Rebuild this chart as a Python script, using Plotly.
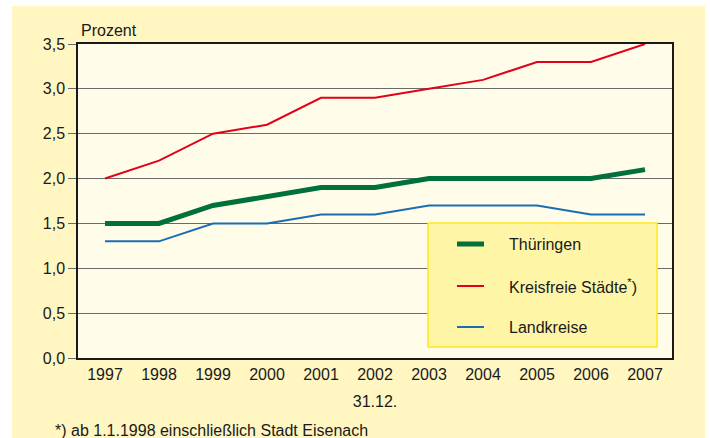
import plotly.graph_objects as go

years = ["1997", "1998", "1999", "2000", "2001", "2002", "2003", "2004", "2005", "2006", "2007"]
thueringen = [1.5, 1.5, 1.7, 1.8, 1.9, 1.9, 2.0, 2.0, 2.0, 2.0, 2.1]
kreisfreie = [2.0, 2.2, 2.5, 2.6, 2.9, 2.9, 3.0, 3.1, 3.3, 3.3, 3.5]
landkreise = [1.3, 1.3, 1.5, 1.5, 1.6, 1.6, 1.7, 1.7, 1.7, 1.6, 1.6]
y_ticks = [0.0, 0.5, 1.0, 1.5, 2.0, 2.5, 3.0, 3.5]
series_names = ["Thüringen", "Kreisfreie Städte<sup>*</sup>)", "Landkreise"]
series_colors = ["#00703C", "#E2001A", "#1A6DB2"]
series_widths = [5, 2, 2]
series_values = [thueringen, kreisfreie, landkreise]

FONT = "Liberation Sans, Arial, sans-serif"
FS = 16
W, H = 710, 438
L, R, T, B = 78, 38, 44, 80
pw, ph = W - L - R, H - T - B

def px(x):
    return (x - L) / pw

def py(y):
    return (H - B - y) / ph

fig = go.Figure()
for name, vals, col, wd in zip(series_names, series_values, series_colors, series_widths):
    fig.add_trace(go.Scatter(x=years, y=vals, mode="lines", name=name,
                             line=dict(color=col, width=wd), showlegend=False))

shapes = [
    dict(type="rect", xref="paper", yref="paper", x0=px(12), x1=px(705), y0=py(6), y1=py(440),
         fillcolor="#FFF6C2", line=dict(width=0), layer="below"),
    dict(type="rect", xref="paper", yref="paper", x0=0, x1=1, y0=0, y1=1,
         fillcolor="#FFFDEA", line=dict(width=0), layer="below"),
    dict(type="rect", xref="paper", yref="paper", x0=px(428), x1=px(657), y0=py(347), y1=py(223),
         fillcolor="#FFF5A6", line=dict(color="#FFE81A", width=1.5), layer="above"),
]
annotations = [
    dict(text="Prozent", xref="paper", yref="paper", x=px(79), y=py(31),
         xanchor="left", yanchor="middle", showarrow=False),
    dict(text="*) ab 1.1.1998 einschließlich Stadt Eisenach", xref="paper", yref="paper",
         x=px(53), y=py(430), xanchor="left", yanchor="middle", showarrow=False),
]
legend_y = [244, 286, 327]
for name, col, wd, ly in zip(series_names, series_colors, series_widths, legend_y):
    shapes.append(dict(type="line", xref="paper", yref="paper", x0=px(457), x1=px(484),
                       y0=py(ly), y1=py(ly), line=dict(color=col, width=wd), layer="above"))
    annotations.append(dict(text=name, xref="paper", yref="paper", x=px(507), y=py(ly),
                            xanchor="left", yanchor="middle", showarrow=False))

fig.update_layout(
    width=W, height=H,
    margin=dict(l=L, r=R, t=T, b=B),
    paper_bgcolor="white",
    plot_bgcolor="rgba(0,0,0,0)",
    font=dict(family=FONT, size=FS, color="#1a1a1a"),
    separators=",.",
    showlegend=False,
    shapes=shapes,
    annotations=annotations,
    xaxis=dict(type="category", range=[-0.5, 10.5], showgrid=False, showline=True,
               linecolor="#1a1a1a", linewidth=1.5, mirror=True, ticks="", ticklabelstandoff=1,
               tickfont=dict(size=FS),
               title=dict(text="31.12.", standoff=14, font=dict(size=FS)), fixedrange=True),
    yaxis=dict(range=[0, 3.5], tickvals=y_ticks, tickformat=".1f", showgrid=True,
               gridcolor="#6a6a6a", gridwidth=1, showline=True, linecolor="#1a1a1a",
               linewidth=1.5, mirror=True, ticks="outside", ticklen=8, tickcolor="#6a6a6a",
               tickfont=dict(size=FS), zeroline=False, fixedrange=True),
)

fig.write_html("out.html", config={"displayModeBar": False},
               post_script="document.body.style.margin='0';document.body.style.padding='0';")
